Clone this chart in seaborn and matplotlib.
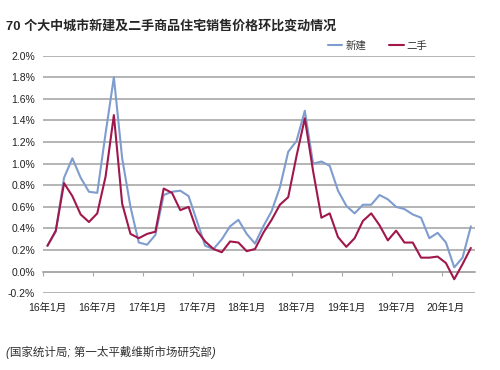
"""
Monthly price change of new vs. second-hand homes in 70 large/mid-size cities.
"""

import matplotlib
matplotlib.use("Agg")
import matplotlib.pyplot as plt
import pandas as pd
import seaborn as sns
from matplotlib.ticker import FuncFormatter

# Month-on-month change (%), 2016-01 .. 2020-04
new_home = [0.24, 0.37, 0.87, 1.05, 0.87, 0.74, 0.73, 1.28, 1.80,
            1.05, 0.60, 0.27, 0.25, 0.34, 0.71, 0.74, 0.75, 0.70,
            0.47, 0.24, 0.21, 0.30, 0.42, 0.48, 0.35, 0.26, 0.42,
            0.56, 0.78, 1.11, 1.21, 1.49, 1.00, 1.02, 0.98, 0.75,
            0.61, 0.54, 0.62, 0.62, 0.71, 0.67, 0.60, 0.58, 0.53,
            0.50, 0.31, 0.36, 0.27, 0.04, 0.13, 0.42]
second_hand = [0.24, 0.38, 0.82, 0.70, 0.53, 0.46, 0.54, 0.88, 1.45,
               0.63, 0.35, 0.31, 0.35, 0.37, 0.77, 0.73, 0.57, 0.60,
               0.38, 0.28, 0.21, 0.18, 0.28, 0.27, 0.19, 0.21, 0.36,
               0.48, 0.62, 0.69, 1.07, 1.42, 0.93, 0.50, 0.54, 0.32,
               0.23, 0.31, 0.47, 0.54, 0.43, 0.29, 0.38, 0.27, 0.27,
               0.13, 0.13, 0.14, 0.08, -0.07, 0.07, 0.22]
series_names = ["新建", "二手"]
tick_labels = ["16年1月", "16年7月", "17年1月", "17年7月", "18年1月",
               "18年7月", "19年1月", "19年7月", "20年1月"]

TITLE = "70 个大中城市新建及二手商品住宅销售价格环比变动情况"
SOURCE = "(国家统计局; 第一太平戴维斯市场研究部)"

months = list(range(len(new_home)))
df = pd.DataFrame({
    "month": months + months,
    "value": new_home + second_hand,
    "series": [series_names[0]] * len(months) + [series_names[1]] * len(months),
})

sns.set_style("white")
plt.rcParams["font.family"] = ["Liberation Sans", "Noto Sans CJK SC", "DejaVu Sans"]

fig = plt.figure(figsize=(5, 3.7), dpi=100)
ax = fig.add_axes([0.0866, 0.2073, 0.8634, 0.6422])

grid_color = "#a8a8a8"
sns.lineplot(data=df, x="month", y="value", hue="series",
             palette={"新建": "#7f9ccf", "二手": "#a0174c"},
             linewidth=1.5, ax=ax, legend=True)

ax.set_xlim(-0.5, len(months) - 0.5)
ax.set_ylim(-0.2, 2.0)
ax.set_yticks([i / 10 for i in range(-2, 21, 2)])
ax.yaxis.set_major_formatter(FuncFormatter(lambda v, _: f"{v:.1f}%"))
ax.yaxis.grid(True, color=grid_color, linewidth=1.2)
ax.set_axisbelow(True)
for s in ax.spines.values():
    s.set_visible(False)

ax.set_xticks(months[::6])
ax.set_xticklabels(tick_labels)
ax.tick_params(axis="x", length=0, pad=7, labelsize=7.5, labelcolor="#222222")
ax.tick_params(axis="y", length=0, pad=6, labelsize=7.5, labelcolor="#222222")
ax.set_xlabel("")
ax.set_ylabel("")

# category axis crossing at 0% with tick marks between month groups
zero_ax = ax.secondary_xaxis(0.2 / 2.2)
zero_ax.set_xticks([m - 0.5 for m in months[::6]])
zero_ax.set_xticklabels([])
zero_ax.tick_params(length=3, width=0.8, color=grid_color, direction="out")
zero_ax.spines["bottom"].set_color(grid_color)
zero_ax.spines["bottom"].set_linewidth(1.2)

ax.legend(title=None, frameon=False, ncol=2, fontsize=7.5,
          loc="center", bbox_to_anchor=(0.755, 0.876),
          bbox_transform=fig.transFigure,
          handlelength=1.4, handletextpad=0.3, columnspacing=2.2,
          labelcolor="#333333")

fig.text(0.012, 0.93, TITLE, fontsize=9.4, fontweight="bold",
         family=["Liberation Sans", "Noto Sans CJK SC"], va="center")
fig.text(0.012, 0.047, SOURCE, fontsize=8.3, style="italic", color="#333333",
         family=["Liberation Sans", "Noto Sans CJK SC"], va="center")

fig.savefig("out.png", dpi=100)
